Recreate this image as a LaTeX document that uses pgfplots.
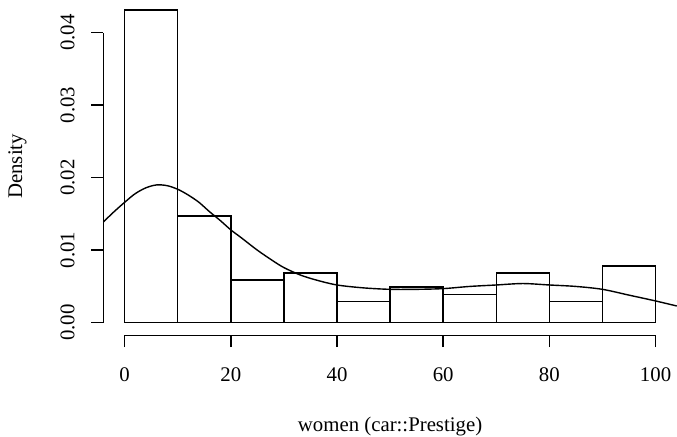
\documentclass[border=0pt]{standalone}
\usepackage{fontspec}
\setmainfont{Liberation Serif}
\usepackage{pgfplots}
\pgfplotsset{compat=1.18}
\begin{document}
\fontsize{10.4}{12.5}\selectfont
\begin{tikzpicture}
\begin{axis}[
  scale only axis,
  width=286.7pt, height=168.9pt,
  xmin=-4, xmax=104,
  ymin=-0.001726, ymax=0.044863,
  axis x line*=bottom, axis y line*=left,
  axis line style={draw=none},
  clip=false,
  xtick={0,20,40,60,80,100},
  ytick={0,0.01,0.02,0.03,0.04},
  scaled y ticks=false,
  tick align=outside,
  major tick length=6pt,
  tick style={black, line width=0.7pt},
  every tick label/.append style={font=\fontsize{10.4}{12.5}\selectfont},
  label style={font=\fontsize{10.4}{12.5}\selectfont},
  /pgf/number format/assume math mode=true,
  yticklabel style={/pgf/number format/.cd, fixed, fixed zerofill, precision=2, /tikz/.cd, anchor=center, xshift=-11.9pt, rotate=90},
  xticklabel style={anchor=center, yshift=-13.5pt},
  xlabel={women (car::Prestige)},
  ylabel={Density},
  xlabel style={at={(axis description cs:0.5,0)}, anchor=center, yshift=-45.9pt},
  ylabel style={at={(axis description cs:-0.150,0.5)}, anchor=center},
]
\addplot[ybar interval, draw=black, fill=white, line width=0.7pt] coordinates {
(0,0.043137) (10,0.014706) (20,0.005882) (30,0.006863) (40,0.002941)
(50,0.004902) (60,0.003922) (70,0.006863) (80,0.002941) (90,0.007843) (100,0.007843)
};
\addplot[smooth, black, line width=0.7pt] coordinates {
(-4,0.0139) (-2,0.0153) (0,0.0166) (2,0.0178) (4,0.0186) (6,0.0190) (8,0.0189)
(10,0.0184) (12,0.0176) (14,0.0166) (16,0.0153) (18,0.0141) (20,0.0128)
(22,0.0117) (25,0.0100) (28,0.0085) (30,0.0076) (33,0.0066) (36,0.0059)
(40,0.0052) (45,0.0048) (50,0.0046) (55,0.0046) (60,0.0047) (65,0.0050)
(70,0.0052) (75,0.0054) (80,0.0052) (85,0.0050) (90,0.0046) (95,0.0038)
(100,0.0030) (104,0.0023)
};
\draw[line width=0.7pt] (axis cs:0,-0.001726) -- (axis cs:100,-0.001726);
\draw[line width=0.7pt] (axis cs:-4,0) -- (axis cs:-4,0.04);
\end{axis}
\pgfresetboundingbox
\useasboundingbox (-51.7pt,-50.4pt) rectangle (286.8pt,167.6pt);
\end{tikzpicture}
\end{document}
